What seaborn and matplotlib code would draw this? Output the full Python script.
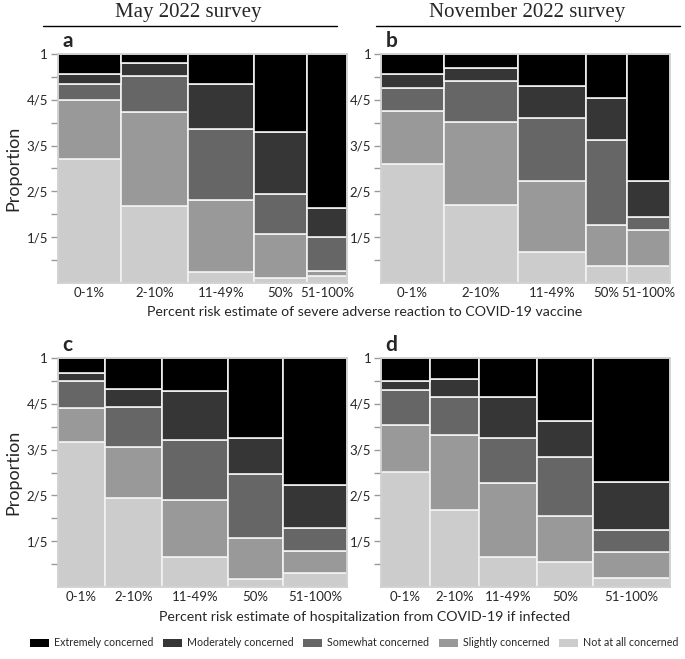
import numpy as np
import pandas as pd
import matplotlib.pyplot as plt
import matplotlib.patches as mpatches
import seaborn as sns

# ---------- data ----------
risk_labels = ['0-1%', '2-10%', '11-49%', '50%', '51-100%']
concern_levels = ['Extremely concerned', 'Moderately concerned', 'Somewhat concerned',
                  'Slightly concerned', 'Not at all concerned']
concern_colors = ['#000000', '#363636', '#666666', '#999999', '#cccccc']

# share of respondents in each risk column (tile width)
widths_a = [0.219, 0.232, 0.228, 0.183, 0.138]
widths_b = [0.218, 0.256, 0.235, 0.142, 0.149]
widths_c = [0.164, 0.197, 0.228, 0.190, 0.221]
widths_d = [0.168, 0.172, 0.199, 0.192, 0.268]

# proportions per column, ordered as concern_levels
props_a = [[0.087, 0.045, 0.067, 0.261, 0.539],
           [0.041, 0.057, 0.155, 0.410, 0.338],
           [0.131, 0.198, 0.309, 0.313, 0.048],
           [0.340, 0.271, 0.175, 0.191, 0.023],
           [0.671, 0.128, 0.149, 0.020, 0.032]]
props_b = [[0.086, 0.063, 0.099, 0.233, 0.519],
           [0.061, 0.058, 0.179, 0.360, 0.341],
           [0.140, 0.141, 0.273, 0.309, 0.137],
           [0.192, 0.184, 0.372, 0.176, 0.076],
           [0.555, 0.156, 0.057, 0.159, 0.073]]
props_c = [[0.067, 0.033, 0.116, 0.151, 0.632],
           [0.137, 0.077, 0.175, 0.223, 0.389],
           [0.143, 0.214, 0.265, 0.249, 0.130],
           [0.351, 0.156, 0.278, 0.182, 0.033],
           [0.553, 0.188, 0.102, 0.095, 0.063]]
props_d = [[0.101, 0.038, 0.152, 0.207, 0.502],
           [0.093, 0.077, 0.165, 0.327, 0.337],
           [0.171, 0.177, 0.197, 0.324, 0.131],
           [0.273, 0.159, 0.260, 0.200, 0.108],
           [0.542, 0.209, 0.096, 0.112, 0.041]]

palette = dict(zip(concern_levels, concern_colors))
FONT = ['Lato', 'DejaVu Sans']

sns.set_style("white")
plt.rcParams['font.family'] = FONT

fig = plt.figure(figsize=(6.85, 6.59), dpi=100)


def mosaic(rect, widths, props, letter, ylabel):
    ax = fig.add_axes(rect)
    w = np.array(widths) / np.sum(widths)
    edges = np.concatenate([[0], np.cumsum(w)])
    centers = (edges[:-1] + edges[1:]) / 2
    rows = []
    for i, col in enumerate(props):
        for lev, p in zip(concern_levels, col):
            rows.append({'x': centers[i], 'concern': lev, 'p': p})
    df = pd.DataFrame(rows)
    # mosaic: bins = column edges, fill-normalised stacks
    sns.histplot(data=df, x='x', weights='p', hue='concern', hue_order=concern_levels,
                 bins=list(edges), multiple='fill', palette=palette, alpha=1,
                 edgecolor='#f2f2f2', linewidth=1.2, legend=False, ax=ax)
    ax.set_xlim(0, 1)
    ax.set_ylim(0, 1)
    ax.set_xticks(centers)
    ax.set_xticklabels(risk_labels, fontsize=9.5)
    ax.tick_params(axis='x', length=0, pad=3)
    ax.set_yticks([0.2, 0.4, 0.6, 0.8, 1.0])
    ax.set_yticklabels(['1/5', '2/5', '3/5', '4/5', '1'], fontsize=9.5)
    ax.set_yticks([0.1, 0.3, 0.5, 0.7, 0.9], minor=True)
    ax.tick_params(axis='y', which='both', left=True, length=5, width=1,
                   color='#9a9a9a', pad=2)
    for s in ax.spines.values():
        s.set_color('#cccccc')
        s.set_linewidth(1.2)
    ax.set_xlabel('')
    ax.set_ylabel('Proportion' if ylabel else '', fontsize=13, labelpad=4)
    ax.text(0.015, 1.015, letter, transform=ax.transAxes, fontsize=15,
            fontweight='bold', va='bottom', ha='left')
    return ax


W, H = 289.3 / 685, 229 / 659
mosaic([57.7 / 685, 1 - 283 / 659, W, H], widths_a, props_a, 'a', True)
mosaic([381 / 685, 1 - 283 / 659, W, H], widths_b, props_b, 'b', False)
mosaic([57.7 / 685, 1 - 587 / 659, W, H], widths_c, props_c, 'c', True)
mosaic([381 / 685, 1 - 587 / 659, W, H], widths_d, props_d, 'd', False)

# survey headers with rule below
fig.text(188 / 685, 1 - 13 / 659, 'May 2022 survey', family='Liberation Serif',
         fontsize=15, ha='center', va='center')
fig.text(527 / 685, 1 - 13 / 659, 'November 2022 survey', family='Liberation Serif',
         fontsize=15, ha='center', va='center')
fig.add_artist(plt.Line2D([43 / 685, 337 / 685], [1 - 26 / 659] * 2, color='black', lw=1))
fig.add_artist(plt.Line2D([376 / 685, 680 / 685], [1 - 26 / 659] * 2, color='black', lw=1))

fig.text(365 / 685, 1 - 312 / 659,
         'Percent risk estimate of severe adverse reaction to COVID-19 vaccine',
         fontsize=10.2, ha='center', va='center')
fig.text(365 / 685, 1 - 617 / 659,
         'Percent risk estimate of hospitalization from COVID-19 if infected',
         fontsize=10.2, ha='center', va='center')

handles = [mpatches.Patch(facecolor=c, edgecolor='none', label=l)
           for l, c in zip(concern_levels, concern_colors)]
fig.legend(handles=handles, loc='center', bbox_to_anchor=(354 / 685, 1 - 643 / 659), ncol=5,
           frameon=False, fontsize=7.7, handlelength=1.8, handleheight=0.75,
           handletextpad=0.45, columnspacing=0.9, borderpad=0, borderaxespad=0)

fig.savefig('out.png', dpi=100)
